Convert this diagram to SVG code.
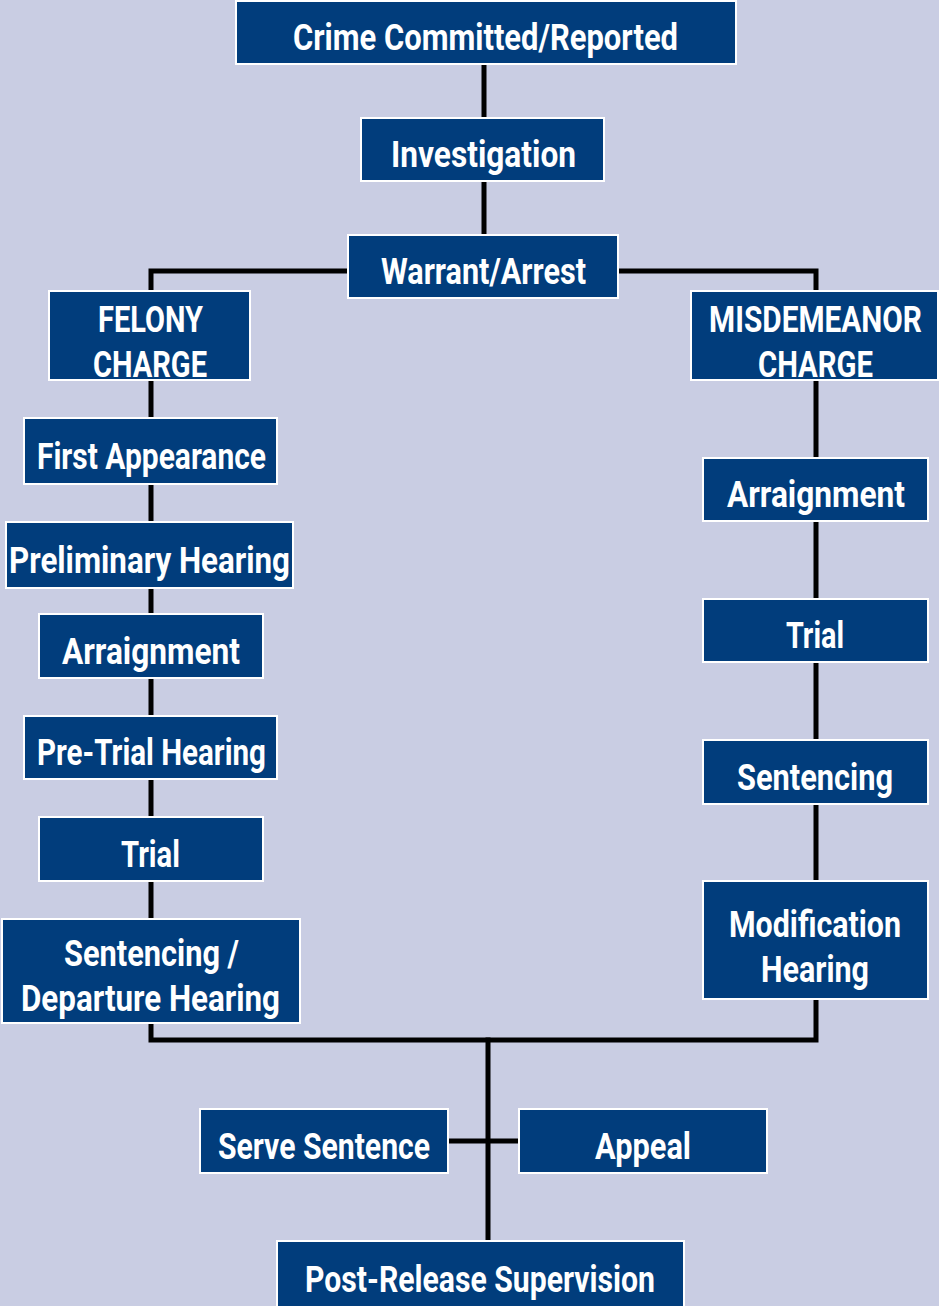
<svg xmlns="http://www.w3.org/2000/svg" width="939" height="1306" viewBox="0 0 939 1306">
<style>
.b{fill:#013d7c;stroke:#ffffff;stroke-width:2}
.t{font-family:Roboto,"Liberation Sans",sans-serif;font-weight:bold;font-size:37px;fill:#ffffff;text-anchor:middle}
.c{stroke:#000;stroke-width:5;fill:none;stroke-linecap:square}
</style>
<rect width="939" height="1306" fill="#c9cde3"/>
<g id="connectors">
<path class="c" d="M484 64V118M484 181V235"/>
<path class="c" d="M348 271H151V290M618 271H816V290"/>
<path class="c" d="M151 380V1040H816V380"/>
<path class="c" d="M488 1040V1241M448 1141H519"/>
</g>
<g id="crime"><rect class="b" x="236" y="1" width="500" height="63"/><text class="t" x="485.5" y="50" textLength="385" lengthAdjust="spacingAndGlyphs">Crime Committed/Reported</text></g>
<g id="investigation"><rect class="b" x="361" y="118" width="243" height="63"/><text class="t" x="483.5" y="167" textLength="185" lengthAdjust="spacingAndGlyphs">Investigation</text></g>
<g id="warrant"><rect class="b" x="348" y="235" width="270" height="63"/><text class="t" x="483.5" y="284" textLength="205" lengthAdjust="spacingAndGlyphs">Warrant/Arrest</text></g>
<g id="felony"><rect class="b" x="49" y="291" width="201" height="89"/><text class="t" x="150.5" y="332" textLength="105" lengthAdjust="spacingAndGlyphs">FELONY</text><text class="t" x="150" y="377" textLength="114" lengthAdjust="spacingAndGlyphs">CHARGE</text></g>
<g id="misdemeanor"><rect class="b" x="691" y="291" width="247" height="89"/><text class="t" transform="translate(815.5 332) scale(0.8 1)" x="0" y="0" textLength="266" lengthAdjust="spacingAndGlyphs">MISDEMEANOR</text><text class="t" x="815.5" y="377" textLength="115" lengthAdjust="spacingAndGlyphs">CHARGE</text></g>
<g id="first-appearance"><rect class="b" x="24" y="418" width="253" height="66"/><text class="t" x="151.5" y="469" textLength="229" lengthAdjust="spacingAndGlyphs">First Appearance</text></g>
<g id="preliminary"><rect class="b" x="6" y="522" width="287" height="66"/><text class="t" x="149.5" y="573" textLength="281" lengthAdjust="spacingAndGlyphs">Preliminary Hearing</text></g>
<g id="arraignment-f"><rect class="b" x="39" y="614" width="224" height="64"/><text class="t" x="151" y="664" textLength="178" lengthAdjust="spacingAndGlyphs">Arraignment</text></g>
<g id="pretrial"><rect class="b" x="24" y="716" width="253" height="63"/><text class="t" x="151.5" y="765" textLength="229" lengthAdjust="spacingAndGlyphs">Pre-Trial Hearing</text></g>
<g id="trial-f"><rect class="b" x="39" y="817" width="224" height="64"/><text class="t" x="150.5" y="867" textLength="59" lengthAdjust="spacingAndGlyphs">Trial</text></g>
<g id="sentencing-f"><rect class="b" x="2" y="919" width="298" height="104"/><text class="t" x="151.5" y="966" textLength="175" lengthAdjust="spacingAndGlyphs">Sentencing /</text><text class="t" x="150.5" y="1011" textLength="259" lengthAdjust="spacingAndGlyphs">Departure Hearing</text></g>
<g id="arraignment-m"><rect class="b" x="703" y="458" width="225" height="63"/><text class="t" x="816" y="507" textLength="178" lengthAdjust="spacingAndGlyphs">Arraignment</text></g>
<g id="trial-m"><rect class="b" x="703" y="599" width="225" height="63"/><text class="t" x="815" y="648" textLength="58" lengthAdjust="spacingAndGlyphs">Trial</text></g>
<g id="sentencing-m"><rect class="b" x="703" y="740" width="225" height="64"/><text class="t" x="815" y="790" textLength="156" lengthAdjust="spacingAndGlyphs">Sentencing</text></g>
<g id="modification"><rect class="b" x="703" y="881" width="225" height="118"/><text class="t" x="815" y="937" textLength="172" lengthAdjust="spacingAndGlyphs">Modification</text><text class="t" x="815" y="982" textLength="108" lengthAdjust="spacingAndGlyphs">Hearing</text></g>
<g id="serve"><rect class="b" x="200" y="1109" width="248" height="64"/><text class="t" x="324" y="1159" textLength="212" lengthAdjust="spacingAndGlyphs">Serve Sentence</text></g>
<g id="appeal"><rect class="b" x="519" y="1109" width="248" height="64"/><text class="t" x="643" y="1159" textLength="96" lengthAdjust="spacingAndGlyphs">Appeal</text></g>
<g id="post-release"><rect class="b" x="277" y="1241" width="407" height="66"/><text class="t" x="480" y="1292" textLength="350" lengthAdjust="spacingAndGlyphs">Post-Release Supervision</text></g>
</svg>
